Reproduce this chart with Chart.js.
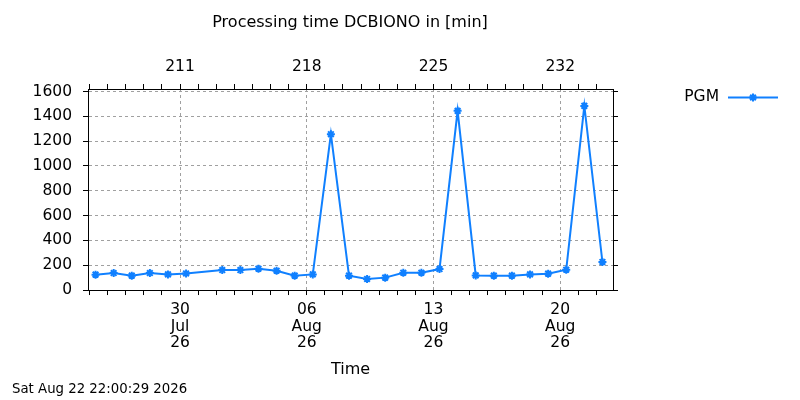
<!DOCTYPE html>
<html>
<head>
<meta charset="utf-8">
<script src="https://cdn.jsdelivr.net/npm/chart.js@4.4.1/dist/chart.umd.min.js"></script>
<style>
  body { margin: 0; background: #fff; }
  #wrap { width: 800px; height: 400px; }
</style>
</head>
<body>
<div id="wrap"><canvas id="procChart" width="800" height="400"></canvas></div>
<script>
// sample days (one run per day, 31 Jul missing)
const sampleDates = [
  '2026-07-25', '2026-07-26', '2026-07-27', '2026-07-28', '2026-07-29', '2026-07-30',
  '2026-08-01', '2026-08-02', '2026-08-03', '2026-08-04', '2026-08-05', '2026-08-06', '2026-08-07',
  '2026-08-08', '2026-08-09', '2026-08-10', '2026-08-11', '2026-08-12', '2026-08-13', '2026-08-14',
  '2026-08-15', '2026-08-16', '2026-08-17', '2026-08-18', '2026-08-19', '2026-08-20', '2026-08-21',
  '2026-08-22'
];
const sampleHour = 8;
// processing time in minutes
const pgmMinutes = [
  124, 137, 116, 137, 126, 134,
  161, 161, 172, 156, 116, 126, 1256,
  116, 89, 100, 140, 140, 169, 1444,
  118, 116, 116, 126, 132, 164, 1484,
  226
];
const seriesName = 'PGM';
const chartTitle = 'Processing time DCBIONO in [min]';
const xTitle = 'Time';
const stampText = 'Sat Aug 22 22:00:29 2026';
const axisStart = '2026-07-24T22:00';
const axisEnd = '2026-08-22T22:00';
const majorTickDays = [211, 218, 225, 232];
const topTickLabels = ['211', '218', '225', '232'];
const bottomTickLabels = [['30', 'Jul', '26'], ['06', 'Aug', '26'], ['13', 'Aug', '26'], ['20', 'Aug', '26']];
const yTicks = [0, 200, 400, 600, 800, 1000, 1200, 1400, 1600];

const LINE_COLOR = '#1080ff';
const GRID_COLOR = '#a0a0a0';
const FONT = 'DejaVu Sans';

function dayOfYear(str) {
  const d = new Date(str + 'Z');
  return (d - Date.UTC(d.getUTCFullYear(), 0, 1)) / 86400000 + 1;
}

const xMin = dayOfYear(axisStart);
const xMax = dayOfYear(axisEnd);
const points = sampleDates.map((s, i) => ({ x: dayOfYear(s + 'T00:00') + sampleHour / 24, y: pgmMinutes[i] }));

// every day gets a small tick, every 7th day a labelled one
function dayTicks(axis) {
  let t = [];
  for (let v = Math.ceil(axis.min); v <= Math.floor(axis.max); v++) t.push({ value: v });
  axis.ticks = t;
}
function keepYTicks(axis) {
  axis.ticks = yTicks.map(v => ({ value: v }));
}
function majorGrid(ctx) {
  return ctx.tick && majorTickDays.includes(ctx.tick.value) ? GRID_COLOR : 'rgba(0,0,0,0)';
}

// legend drawn gnuplot style: text first, then line with marker
const keyPlugin = {
  id: 'gpKey',
  afterDraw(chart) {
    const ctx = chart.ctx;
    const ds = chart.data.datasets[0];
    ctx.save();
    ctx.font = '15.5px "' + FONT + '"';
    ctx.fillStyle = '#000';
    ctx.textAlign = 'right';
    ctx.textBaseline = 'middle';
    ctx.fillText(ds.label, 719, 97);
    ctx.strokeStyle = ds.borderColor;
    ctx.lineWidth = ds.borderWidth;
    ctx.beginPath();
    ctx.moveTo(728, 97.5);
    ctx.lineTo(778, 97.5);
    ctx.stroke();
    ctx.fillStyle = ds.borderColor;
    Chart.helpers.drawPoint(ctx, { pointStyle: ds.pointStyle, radius: ds.pointRadius, borderWidth: ds.pointBorderWidth }, 753, 97.5);
    ctx.restore();
  }
};

const tickFont = { family: FONT, size: 15.5 };

var procChart = new Chart(document.getElementById('procChart').getContext('2d'), {
  type: 'line',
  data: {
    datasets: [{
      label: seriesName,
      data: points,
      borderColor: LINE_COLOR,
      backgroundColor: LINE_COLOR,
      borderWidth: 2,
      pointStyle: 'star',
      pointRadius: 4,
      pointBorderWidth: 2,
      pointBorderColor: LINE_COLOR,
      tension: 0
    }]
  },
  options: {
    responsive: false,
    animation: false,
    devicePixelRatio: 1,
    layout: { padding: { left: 12, right: 112, top: 0, bottom: 0 } },
    plugins: {
      legend: { display: false },
      tooltip: { enabled: false },
      title: {
        display: true,
        text: chartTitle,
        color: '#000',
        font: { family: FONT, size: 16, weight: 'normal' },
        padding: { top: 13, bottom: 0 }
      },
      subtitle: {
        display: true,
        text: stampText,
        position: 'bottom',
        align: 'start',
        color: '#000',
        font: { family: FONT, size: 13.3, weight: 'normal' },
        padding: { top: 2.4, bottom: 2 }
      }
    },
    scales: {
      x: {
        type: 'linear',
        position: 'bottom',
        min: xMin,
        max: xMax,
        afterBuildTicks: dayTicks,
        afterFit: s => { s.height = 89.6; },
        ticks: {
          autoSkip: false,
          maxRotation: 0,
          color: '#000',
          padding: 7,
          font: { family: FONT, size: 15.5, lineHeight: '16.5px' },
          callback: v => {
            const i = majorTickDays.indexOf(v);
            return i < 0 ? '' : bottomTickLabels[i];
          }
        },
        grid: { color: majorGrid, tickColor: '#000', tickLength: 5, lineWidth: 1 },
        border: { color: '#000', width: 1, dash: [3, 3] },
        title: { display: true, text: xTitle, color: '#000', font: { family: FONT, size: 16 }, padding: { top: 0, bottom: 0 } }
      },
      x2: {
        type: 'linear',
        position: 'top',
        min: xMin,
        max: xMax,
        afterBuildTicks: dayTicks,
        afterFit: s => { s.height = 56.8; },
        ticks: {
          autoSkip: false,
          maxRotation: 0,
          color: '#000',
          padding: 8,
          font: tickFont,
          callback: v => {
            const i = majorTickDays.indexOf(v);
            return i < 0 ? '' : topTickLabels[i];
          }
        },
        grid: { drawOnChartArea: false, tickColor: '#000', tickLength: 5 },
        border: { color: '#000', width: 1 }
      },
      y: {
        type: 'linear',
        position: 'left',
        min: 0,
        max: 1620,
        afterBuildTicks: keepYTicks,
        afterFit: s => { s.width = 76; },
        ticks: { color: '#000', padding: 11, font: tickFont, callback: v => String(v) },
        grid: { color: GRID_COLOR, tickColor: '#000', tickLength: 5, lineWidth: 1 },
        border: { color: '#000', width: 1, dash: [3, 3] }
      },
      y2: {
        type: 'linear',
        position: 'right',
        min: 0,
        max: 1620,
        afterBuildTicks: keepYTicks,
        afterFit: s => { s.width = 75; },
        ticks: { display: true, color: 'rgba(0,0,0,0)', font: tickFont, callback: () => '' },
        grid: { drawOnChartArea: false, tickColor: '#000', tickLength: 5 },
        border: { color: '#000', width: 1 }
      }
    }
  },
  plugins: [keyPlugin]
});
</script>
</body>
</html>
